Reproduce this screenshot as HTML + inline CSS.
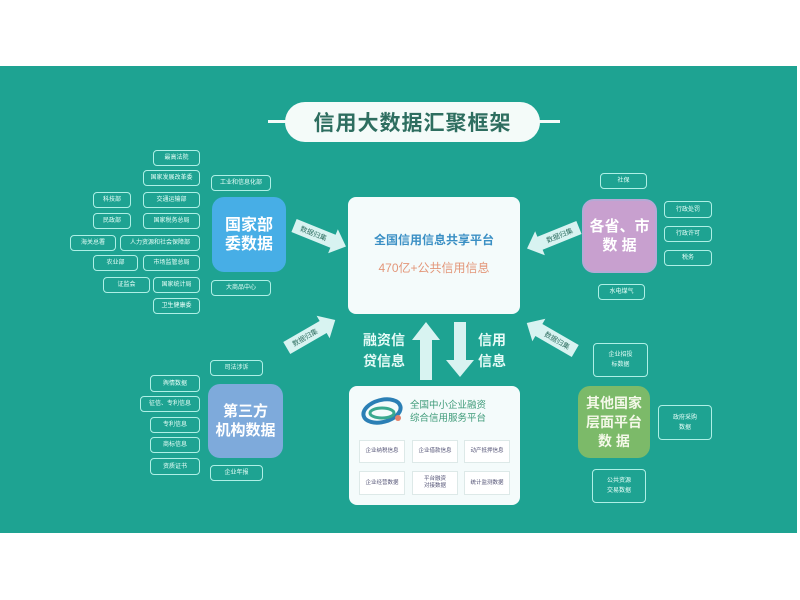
<!DOCTYPE html>
<html><head><meta charset="utf-8">
<style>
*{margin:0;padding:0;box-sizing:border-box}
body{width:800px;height:600px;background:#fff;position:relative;overflow:hidden;font-family:"Liberation Sans","Noto Sans CJK SC",sans-serif}
#bg{position:absolute;left:0;top:66px;width:797px;height:467px;background:#1ea392}
.a{position:absolute}
.s{position:absolute;border:1.5px solid #aef0e6;border-radius:4px;color:#e8fff9;font-size:6px;display:flex;align-items:center;justify-content:center;text-align:center;line-height:8px;white-space:nowrap}
.big{position:absolute;border-radius:12px;color:#fff;font-weight:bold;display:flex;align-items:center;justify-content:center;text-align:center;font-size:16px;line-height:19px}
.wb{position:absolute;background:#f4fbfb;border-radius:8px}
.cell{position:absolute;background:#fff;border:1px solid #dde9e8;font-size:5.5px;color:#557;display:flex;align-items:center;justify-content:center;text-align:center;line-height:7px}
.lab{position:absolute;color:#e6fbf7;font-size:14px;line-height:21px;font-weight:bold}
</style></head><body>
<div id="bg"></div>
<div class="a" style="left:268px;top:120px;width:292px;height:3px;background:#f4fbf9"></div>
<div class="a" style="left:285px;top:102px;width:255px;height:40px;background:#f4fbf9;border-radius:20px;color:#2e6e60;font-size:21px;font-weight:bold;display:flex;align-items:center;justify-content:center;letter-spacing:1px">信用大数据汇聚框架</div>

<div class="wb" style="left:348px;top:197px;width:172px;height:117px"></div>
<div class="a" style="left:348px;top:231px;width:172px;text-align:center;font-size:12px;color:#3a8fc4;font-weight:bold">全国信用信息共享平台</div>
<div class="a" style="left:348px;top:259px;width:172px;text-align:center;font-size:12px;color:#e3977a">470亿+公共信用信息</div>

<svg class="a" style="left:0;top:0" width="800" height="600">
<polygon points="420,380 432,380 432,340 440,340 426,322 412,340 420,340" fill="#d8f3f1"/>
<polygon points="454,322 466,322 466,360 474,360 460,377 446,360 454,360" fill="#d8f3f1"/>
<g transform="translate(320,236) rotate(22)">
<polygon points="-28,-7 14,-7 14,-13 28,0 14,13 14,7 -28,7" fill="#d8f3f1"/>
<text x="-7" y="2.5" font-size="7" fill="#2e6e60" text-anchor="middle" font-family="Noto Sans CJK SC">数据归集</text></g>
<g transform="translate(553,238) rotate(-22)">
<polygon points="28,-7 -14,-7 -14,-13 -28,0 -14,13 -14,7 28,7" fill="#d8f3f1"/>
<text x="7" y="2.5" font-size="7" fill="#2e6e60" text-anchor="middle" font-family="Noto Sans CJK SC">数据归集</text></g>
<g transform="translate(311,334) rotate(-30)">
<polygon points="-28,-7 14,-7 14,-13 28,0 14,13 14,7 -28,7" fill="#d8f3f1"/>
<text x="-7" y="2.5" font-size="7" fill="#2e6e60" text-anchor="middle" font-family="Noto Sans CJK SC">数据归集</text></g>
<g transform="translate(551,337) rotate(30)">
<polygon points="28,-7 -14,-7 -14,-13 -28,0 -14,13 -14,7 28,7" fill="#d8f3f1"/>
<text x="7" y="2.5" font-size="7" fill="#2e6e60" text-anchor="middle" font-family="Noto Sans CJK SC">数据归集</text></g>
</svg>
<div class="lab" style="left:363px;top:330px">融资信<br>贷信息</div>
<div class="lab" style="left:478px;top:330px">信用<br>信息</div>

<div class="wb" style="left:349px;top:386px;width:171px;height:119px"></div>
<svg class="a" style="left:360px;top:394px" width="48" height="36"><ellipse cx="22" cy="17" rx="19" ry="11" fill="none" stroke="#2b7fb5" stroke-width="4" transform="rotate(-15 22 17)"/><ellipse cx="22" cy="19" rx="12" ry="5" fill="none" stroke="#3aa98f" stroke-width="3"/><circle cx="38" cy="24" r="3" fill="#e3816b"/></svg>
<div class="a" style="left:410px;top:399px;font-size:9.5px;line-height:13px;color:#3d9a78">全国中小企业融资<br>综合信用服务平台</div>
<div class="cell" style="left:359px;top:440px;width:46px;height:23px">企业纳税信息</div>
<div class="cell" style="left:412px;top:440px;width:46px;height:23px">企业借款信息</div>
<div class="cell" style="left:464px;top:440px;width:46px;height:23px">动产抵押信息</div>
<div class="cell" style="left:359px;top:471px;width:46px;height:24px">企业经营数据</div>
<div class="cell" style="left:412px;top:471px;width:46px;height:24px">平台融资<br>对接数据</div>
<div class="cell" style="left:464px;top:471px;width:46px;height:24px">统计监测数据</div>

<div class="big" style="left:212px;top:197px;width:74px;height:75px;background:#47aee6;font-size:16px">国家部<br>委数据</div>
<div class="s" style="left:153px;top:150px;width:47px;height:16px">最高法院</div>
<div class="s" style="left:143px;top:170px;width:57px;height:16px">国家发展改革委</div>
<div class="s" style="left:211px;top:175px;width:60px;height:16px">工业和信息化部</div>
<div class="s" style="left:93px;top:192px;width:38px;height:16px">科技部</div>
<div class="s" style="left:143px;top:192px;width:57px;height:16px">交通运输部</div>
<div class="s" style="left:93px;top:213px;width:38px;height:16px">民政部</div>
<div class="s" style="left:143px;top:213px;width:57px;height:16px">国家税务总局</div>
<div class="s" style="left:70px;top:235px;width:46px;height:16px">海关总署</div>
<div class="s" style="left:120px;top:235px;width:80px;height:16px">人力资源和社会保障部</div>
<div class="s" style="left:93px;top:255px;width:45px;height:16px">农业部</div>
<div class="s" style="left:143px;top:255px;width:57px;height:16px">市场监管总局</div>
<div class="s" style="left:103px;top:277px;width:47px;height:16px">证监会</div>
<div class="s" style="left:153px;top:277px;width:47px;height:16px">国家统计局</div>
<div class="s" style="left:153px;top:298px;width:47px;height:16px">卫生健康委</div>
<div class="s" style="left:211px;top:280px;width:60px;height:16px">大商品中心</div>

<div class="big" style="left:582px;top:199px;width:75px;height:74px;background:#c8a0cf;font-size:15px;border:2px solid #b5a9d6">各省、市<br>数 据</div>
<div class="s" style="left:600px;top:173px;width:47px;height:16px">社保</div>
<div class="s" style="left:664px;top:201px;width:48px;height:17px">行政处罚</div>
<div class="s" style="left:664px;top:226px;width:48px;height:16px">行政许可</div>
<div class="s" style="left:664px;top:250px;width:48px;height:16px">税务</div>
<div class="s" style="left:598px;top:284px;width:47px;height:16px">水电煤气</div>

<div class="big" style="left:208px;top:384px;width:75px;height:74px;background:#7eaadb;font-size:15px">第三方<br>机构数据</div>
<div class="s" style="left:210px;top:360px;width:53px;height:16px">司法涉诉</div>
<div class="s" style="left:150px;top:375px;width:50px;height:17px">舆情数据</div>
<div class="s" style="left:140px;top:396px;width:60px;height:16px">征信、专利信息</div>
<div class="s" style="left:150px;top:417px;width:50px;height:16px">专利信息</div>
<div class="s" style="left:150px;top:437px;width:50px;height:16px">商标信息</div>
<div class="s" style="left:150px;top:458px;width:50px;height:17px">资质证书</div>
<div class="s" style="left:210px;top:465px;width:53px;height:16px">企业年报</div>

<div class="big" style="left:578px;top:386px;width:72px;height:72px;background:#7cba69;font-size:14px;line-height:19px;color:#f4f8e8">其他国家<br>层面平台<br>数 据</div>
<div class="s" style="left:593px;top:343px;width:55px;height:34px;line-height:10px">企业招投<br>标数据</div>
<div class="s" style="left:658px;top:405px;width:54px;height:35px;line-height:10px">政府采购<br>数据</div>
<div class="s" style="left:592px;top:469px;width:54px;height:34px;line-height:10px">公共资源<br>交易数据</div>
</body></html>
